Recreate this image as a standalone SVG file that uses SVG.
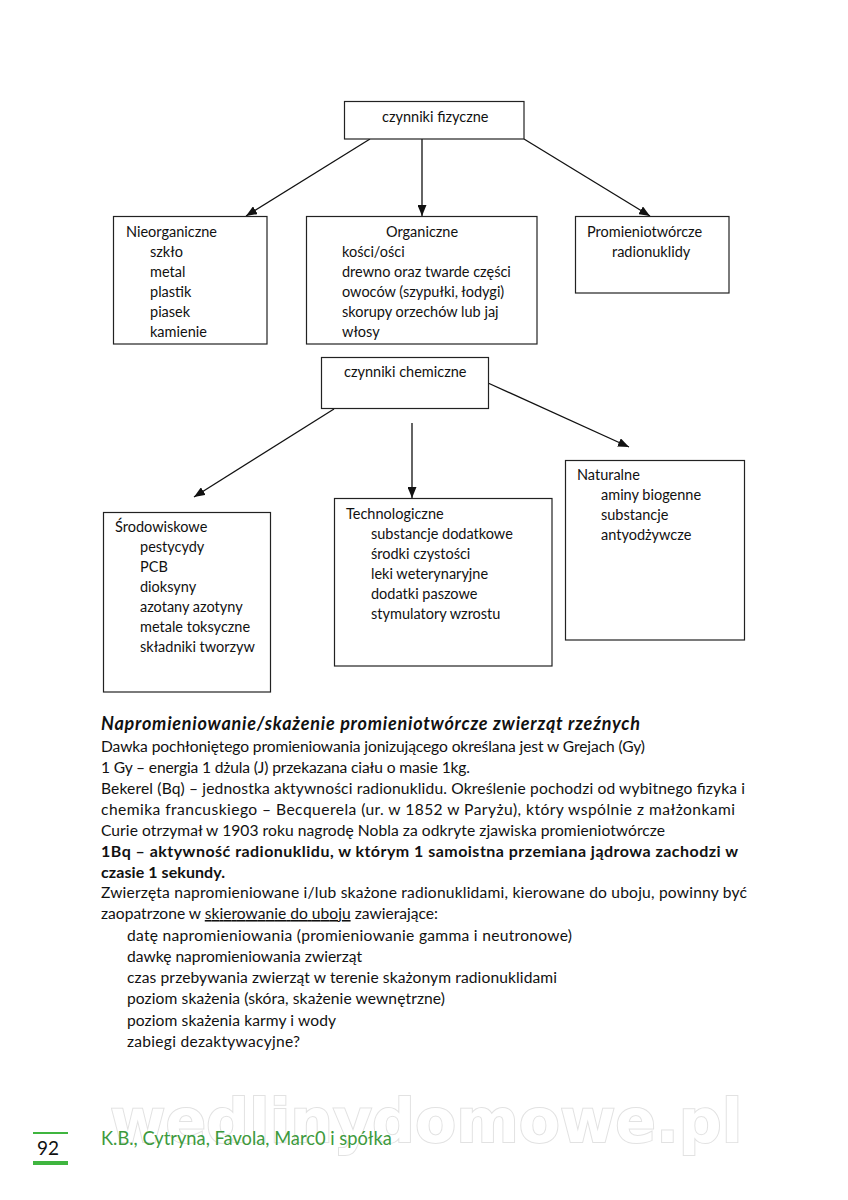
<svg xmlns="http://www.w3.org/2000/svg" width="848" height="1200" viewBox="0 0 848 1200">
<style>
.box{fill:#fff;stroke:#222;stroke-width:1.2}
.t{font-family:Lato,'Liberation Sans',sans-serif;font-size:14.5px;fill:#111}
.b{font-family:Lato,'Liberation Sans',sans-serif;font-size:15.6px;fill:#111}
.bb{font-weight:bold;font-size:16px}
.h{font-family:Lato,'Liberation Sans',sans-serif;font-size:18px;font-weight:bold;font-style:italic;fill:#111}
.con{stroke:#111;stroke-width:1.3;fill:none;marker-end:url(#ah)}
.wm{font-family:'DejaVu Sans',sans-serif;font-weight:bold;font-size:60px;fill:#fff;stroke:#e2e2e2;stroke-width:2;paint-order:stroke}
.ft{font-family:Lato,'Liberation Sans',sans-serif;font-size:18.3px;fill:#3d9a3d}
</style>
<defs>
<marker id="ah" markerUnits="userSpaceOnUse" markerWidth="11" markerHeight="9" refX="11" refY="4.5" orient="auto">
<path d="M0,0 L11,4.5 L0,9 z" fill="#111"/>
</marker>
</defs>
<rect width="848" height="1200" fill="#fff"/>

<g id="connectors">
<line class="con" x1="370" y1="139" x2="246" y2="216"/>
<line class="con" x1="422" y1="139" x2="422" y2="216"/>
<line class="con" x1="524" y1="139" x2="650" y2="216"/>
<line class="con" x1="334" y1="409" x2="194" y2="497"/>
<line class="con" x1="412" y1="423" x2="412" y2="498"/>
<line class="con" x1="488" y1="383" x2="629" y2="447"/>
</g>

<g id="fizyczne">
<rect class="box" x="344.5" y="101.5" width="179.5" height="37.5"/>
<text class="t" x="382" y="122">czynniki fizyczne</text>
</g>

<g id="nieorganiczne">
<rect class="box" x="113.5" y="216.5" width="153.5" height="127.5"/>
<text class="t" x="126" y="237">Nieorganiczne</text>
<text class="t" x="150" y="257">szkło</text>
<text class="t" x="150" y="277">metal</text>
<text class="t" x="150" y="297">plastik</text>
<text class="t" x="150" y="317">piasek</text>
<text class="t" x="150" y="337">kamienie</text>
</g>

<g id="organiczne">
<rect class="box" x="306.5" y="216.5" width="230.5" height="127.5"/>
<text class="t" x="386" y="237">Organiczne</text>
<text class="t" x="342" y="257">kości/ości</text>
<text class="t" x="342" y="277">drewno oraz twarde części</text>
<text class="t" x="342" y="297">owoców (szypułki, łodygi)</text>
<text class="t" x="342" y="317">skorupy orzechów lub jaj</text>
<text class="t" x="342" y="337">włosy</text>
</g>

<g id="promieniotworcze">
<rect class="box" x="575.5" y="216.5" width="153.5" height="76.5"/>
<text class="t" x="587" y="237">Promieniotwórcze</text>
<text class="t" x="612" y="257">radionuklidy</text>
</g>

<g id="chemiczne">
<rect class="box" x="321.5" y="357.5" width="167" height="51"/>
<text class="t" x="344" y="377">czynniki chemiczne</text>
</g>

<g id="srodowiskowe">
<rect class="box" x="103.5" y="512.5" width="167" height="179.5"/>
<text class="t" x="115" y="532">Środowiskowe</text>
<text class="t" x="140" y="552">pestycydy</text>
<text class="t" x="140" y="572">PCB</text>
<text class="t" x="140" y="592">dioksyny</text>
<text class="t" x="140" y="612">azotany azotyny</text>
<text class="t" x="140" y="632">metale toksyczne</text>
<text class="t" x="140" y="652">składniki tworzyw</text>
</g>

<g id="technologiczne">
<rect class="box" x="334.5" y="498.5" width="217.5" height="167.5"/>
<text class="t" x="346" y="519">Technologiczne</text>
<text class="t" x="371" y="539">substancje dodatkowe</text>
<text class="t" x="371" y="559">środki czystości</text>
<text class="t" x="371" y="579">leki weterynaryjne</text>
<text class="t" x="371" y="599">dodatki paszowe</text>
<text class="t" x="371" y="619">stymulatory wzrostu</text>
</g>

<g id="naturalne">
<rect class="box" x="565.5" y="460.5" width="179" height="179.5"/>
<text class="t" x="577" y="480">Naturalne</text>
<text class="t" x="601" y="500">aminy biogenne</text>
<text class="t" x="601" y="520">substancje</text>
<text class="t" x="601" y="540">antyodżywcze</text>
</g>

<g id="body">
<text class="h" x="101" y="730" textLength="539">Napromieniowanie/skażenie promieniotwórcze zwierząt rzeźnych</text>
<text class="b" x="101" y="752" textLength="544">Dawka pochłoniętego promieniowania jonizującego określana jest w Grejach (Gy)</text>
<text class="b" x="101" y="773" textLength="369">1 Gy – energia 1 dżula (J) przekazana ciału o masie 1kg.</text>
<text class="b" x="101" y="794" textLength="644">Bekerel (Bq) – jednostka aktywności radionuklidu. Określenie pochodzi od wybitnego fizyka i</text>
<text class="b" x="101" y="815" textLength="634">chemika francuskiego – Becquerela (ur. w 1852 w Paryżu), który wspólnie z małżonkami</text>
<text class="b" x="101" y="836" textLength="564">Curie otrzymał w 1903 roku nagrodę Nobla za odkryte zjawiska promieniotwórcze</text>
<text class="b bb" x="101" y="857" textLength="637">1Bq – aktywność radionuklidu, w którym 1 samoistna przemiana jądrowa zachodzi w</text>
<text class="b bb" x="101" y="878" textLength="124">czasie 1 sekundy.</text>
<text class="b" x="101" y="898" textLength="646">Zwierzęta napromieniowane i/lub skażone radionuklidami, kierowane do uboju, powinny być</text>
<text class="b" x="101" y="919" textLength="337">zaopatrzone w <tspan text-decoration="underline">skierowanie do uboju</tspan> zawierające:</text>
<text class="b" x="127" y="941" textLength="445">datę napromieniowania (promieniowanie gamma i neutronowe)</text>
<text class="b" x="127" y="962">dawkę napromieniowania zwierząt</text>
<text class="b" x="127" y="983" textLength="430">czas przebywania zwierząt w terenie skażonym radionuklidami</text>
<text class="b" x="127" y="1004" textLength="318">poziom skażenia (skóra, skażenie wewnętrzne)</text>
<text class="b" x="127" y="1026" textLength="209">poziom skażenia karmy i wody</text>
<text class="b" x="127" y="1047" textLength="173">zabiegi dezaktywacyjne?</text>
</g>

<g id="footer">
<text class="wm" x="110" y="1142">wedlinydomowe.pl</text>
<rect x="33" y="1132" width="35" height="2" fill="#3fb53f"/>
<text x="37" y="1155" font-family="Lato,'Liberation Sans',sans-serif" font-size="19px" fill="#111">92</text>
<rect x="33" y="1161" width="35" height="4" fill="#3fb53f"/>
<text class="ft" x="101" y="1145">K.B., Cytryna, Favola, Marc0 i spółka</text>
</g>
</svg>
